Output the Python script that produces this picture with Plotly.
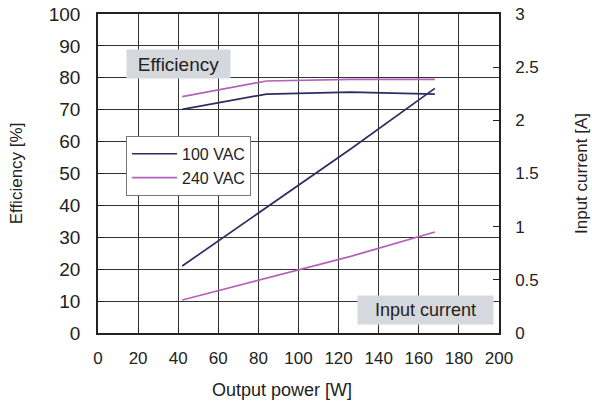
import plotly.graph_objects as go

power = [42, 84, 126, 168]
eff_100 = [70.1, 74.9, 75.5, 74.9]
eff_240 = [74.1, 79.0, 79.5, 79.5]
cur_100 = [0.63, 1.18, 1.73, 2.30]
cur_240 = [0.31, 0.515, 0.72, 0.95]

x_ticks = list(range(0, 201, 20))
y_ticks = list(range(0, 101, 10))
y2_ticks = [0, 0.5, 1, 1.5, 2, 2.5, 3]
y2_labels = ["0", "0.5", "1", "1.5", "2", "2.5", "3"]

NAVY = "#2d2d63"
PINK = "#b461b8"
FONT = "Liberation Sans, Arial, sans-serif"

fig = go.Figure()
fig.add_trace(go.Scatter(x=power, y=eff_100, mode="lines", name="100 VAC",
                         line=dict(color=NAVY, width=1.7)))
fig.add_trace(go.Scatter(x=power, y=eff_240, mode="lines", name="240 VAC",
                         line=dict(color=PINK, width=1.7)))
fig.add_trace(go.Scatter(x=power, y=cur_100, mode="lines", name="100 VAC",
                         line=dict(color=NAVY, width=1.7), yaxis="y2", showlegend=False))
fig.add_trace(go.Scatter(x=power, y=cur_240, mode="lines", name="240 VAC",
                         line=dict(color=PINK, width=1.7), yaxis="y2", showlegend=False))

fig.update_layout(
    width=592, height=410,
    margin=dict(l=98, r=93, t=14, b=77),
    plot_bgcolor="white", paper_bgcolor="white",
    font=dict(family=FONT, color="#222", size=16),
    xaxis=dict(range=[0, 200], tickvals=x_ticks, ticks="inside", ticklen=6,
               tickcolor="#222", showgrid=True, gridcolor="#333", gridwidth=1,
               showline=True, linecolor="#222", linewidth=1.5, mirror=True,
               tickfont=dict(size=17), ticklabelstandoff=9, automargin=False,
               ticklabeloverflow="allow", zeroline=False),
    yaxis=dict(range=[0, 100], tickvals=y_ticks, ticks="inside", ticklen=6,
               tickcolor="#222", showgrid=True, gridcolor="#333", gridwidth=1,
               showline=True, linecolor="#222", linewidth=1.5,
               tickfont=dict(size=19), ticklabelstandoff=12, automargin=False,
               ticklabeloverflow="allow",
               title=dict(text="Efficiency [%]", font=dict(size=17), standoff=22),
               zeroline=False),
    yaxis2=dict(range=[0, 3], tickvals=y2_ticks, ticktext=y2_labels, overlaying="y",
                side="right", ticks="inside", ticklen=6, tickcolor="#222",
                showgrid=False, showline=True, linecolor="#222", linewidth=1.5,
                tickfont=dict(size=17), ticklabelstandoff=11, automargin=False,
                ticklabeloverflow="allow",
                title=dict(text="Input current [A]", font=dict(size=17), standoff=37),
                zeroline=False),
    legend=dict(x=0.07, y=0.618, xanchor="left", yanchor="top",
                bgcolor="white", bordercolor="#777", borderwidth=1,
                font=dict(size=16), tracegroupgap=0, itemwidth=45),
    showlegend=True,
)

fig.add_annotation(xref="paper", yref="paper", x=0.459, y=-0.179,
                   text="Output power [W]", showarrow=False,
                   font=dict(size=18, color="#222"),
                   xanchor="center", yanchor="middle")
fig.add_annotation(xref="paper", yref="paper", x=0.2007, y=0.843,
                   text="Efficiency", showarrow=False, width=101, height=26,
                   bgcolor="#d5d8dc", font=dict(size=19, color="#222"),
                   align="center", xanchor="center", yanchor="middle")
fig.add_annotation(xref="paper", yref="paper", x=0.9875, y=0.0725,
                   text="Input current", showarrow=False, width=133, height=26,
                   bgcolor="#d5d8dc", font=dict(size=18, color="#222"),
                   align="center", xanchor="right", yanchor="middle")

fig.write_html("out.html", config={"displayModeBar": False},
               post_script="document.body.style.margin='0';")
